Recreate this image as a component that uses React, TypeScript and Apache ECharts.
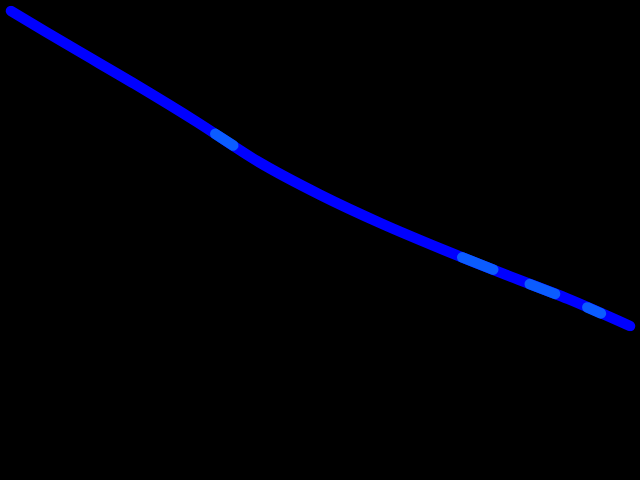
import React, { useEffect, useRef } from "react";
import * as echarts from "echarts";

const xValues = [0, 1, 2, 3, 4, 5, 6, 7, 8, 9, 10];
const yValues = [100, 88.3, 76.8, 64.8, 52.1, 41.6, 32.4, 24.1, 16.2, 8.6, 0];

const highlightSegments: number[][][] = [
  [[3.3, 61.0], [3.59, 57.3]],
  [[7.29, 21.8], [7.79, 17.9]],
  [[8.38, 13.3], [8.79, 10.2]],
  [[9.31, 5.9], [9.53, 4.0]],
];

const mainColor = "#0000ff";
const highlightColor = "#0b5cff";

export default function App() {
  const ref = useRef<HTMLDivElement>(null);
  useEffect(() => {
    if (!ref.current) return;
    const chart = echarts.init(ref.current, undefined, { renderer: "svg" });
    const lineStyle = (color: string) => ({ color, width: 10.5, cap: "round", join: "round" });
    chart.setOption({
      animation: false,
      backgroundColor: "#000000",
      grid: { left: 11, right: 10, top: 11, bottom: 154 },
      xAxis: { type: "value", min: 0, max: 10, show: false },
      yAxis: { type: "value", min: 0, max: 100, show: false },
      series: [
        {
          type: "line",
          data: xValues.map((x, i) => [x, yValues[i]]),
          symbol: "none",
          smooth: 0.3,
          lineStyle: lineStyle(mainColor),
          z: 2,
        },
        ...highlightSegments.map((seg) => ({
          type: "line",
          data: seg,
          symbol: "none",
          lineStyle: lineStyle(highlightColor),
          z: 3,
        })),
      ],
    });
    return () => chart.dispose();
  }, []);
  return (
    <div
      ref={ref}
      style={{ position: "fixed", left: 0, top: 0, width: 640, height: 480, background: "#000" }}
    />
  );
}
